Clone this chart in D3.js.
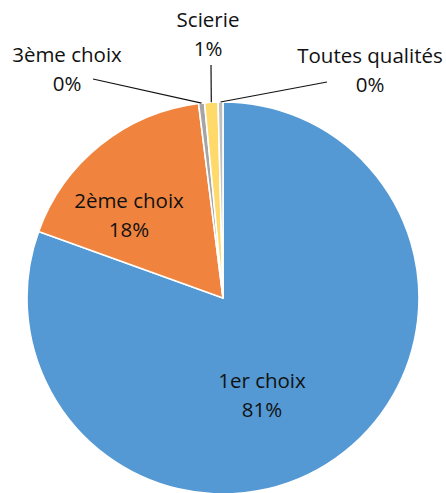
<!DOCTYPE html>
<html>
<head>
<meta charset="utf-8">
<script src="https://cdnjs.cloudflare.com/ajax/libs/d3/7.8.5/d3.min.js"></script>
<style>
  body { margin: 0; background: #fff; }
  svg text { font-family: "Open Sans", "Noto Sans", sans-serif; fill: #111; }
</style>
</head>
<body>
<div id="chart"></div>
<script>
const categories = ['1er choix', '2ème choix', '3ème choix', 'Scierie', 'Toutes qualités'];
const values = [80.5, 17.51, 0.49, 1.1, 0.4];
const colors = ['#5499D3', '#F0843F', '#A5A5A5', '#FFD96A', '#BFBFBF'];

// label layout: [x, y of first line], leader line end points
const labelPos = [[262, 388], [129, 208], [67, 62], [208, 27], [370, 63]];
const leaderEnd = [null, null, [93, 79], [211, 65], [327, 82]];

const width = 446, height = 493;
const cx = 223, cy = 298, radius = 196;

const svg = d3.select('#chart').append('svg')
  .attr('width', width)
  .attr('height', height);

const data = categories.map((c, i) => ({ name: c, value: values[i], color: colors[i], i }));

const pie = d3.pie().sort(null).value(d => d.value);
const arc = d3.arc().innerRadius(0).outerRadius(radius);

const g = svg.append('g').attr('transform', `translate(${cx},${cy})`);
const arcs = pie(data);

g.selectAll('path')
  .data(arcs)
  .enter()
  .append('path')
  .attr('d', arc)
  .attr('fill', d => d.data.color)
  .attr('stroke', '#fff')
  .attr('stroke-width', 1.6)
  .attr('stroke-linejoin', 'round');

// leader lines
const outer = d3.arc().innerRadius(radius).outerRadius(radius);
arcs.forEach((a, i) => {
  if (!leaderEnd[i]) return;
  const c = outer.centroid(a);
  svg.append('line')
    .attr('x1', cx + c[0]).attr('y1', cy + c[1])
    .attr('x2', leaderEnd[i][0]).attr('y2', leaderEnd[i][1])
    .attr('stroke', '#111')
    .attr('stroke-width', 1.2);
});

// labels
const total = d3.sum(values);
arcs.forEach((a, i) => {
  const t = svg.append('text')
    .attr('text-anchor', 'middle')
    .attr('font-size', 20.5);
  t.append('tspan')
    .attr('x', labelPos[i][0]).attr('y', labelPos[i][1])
    .text(categories[i]);
  t.append('tspan')
    .attr('x', labelPos[i][0]).attr('y', labelPos[i][1] + 29)
    .text(Math.round(values[i] / total * 100) + '%');
});
</script>
</body>
</html>
